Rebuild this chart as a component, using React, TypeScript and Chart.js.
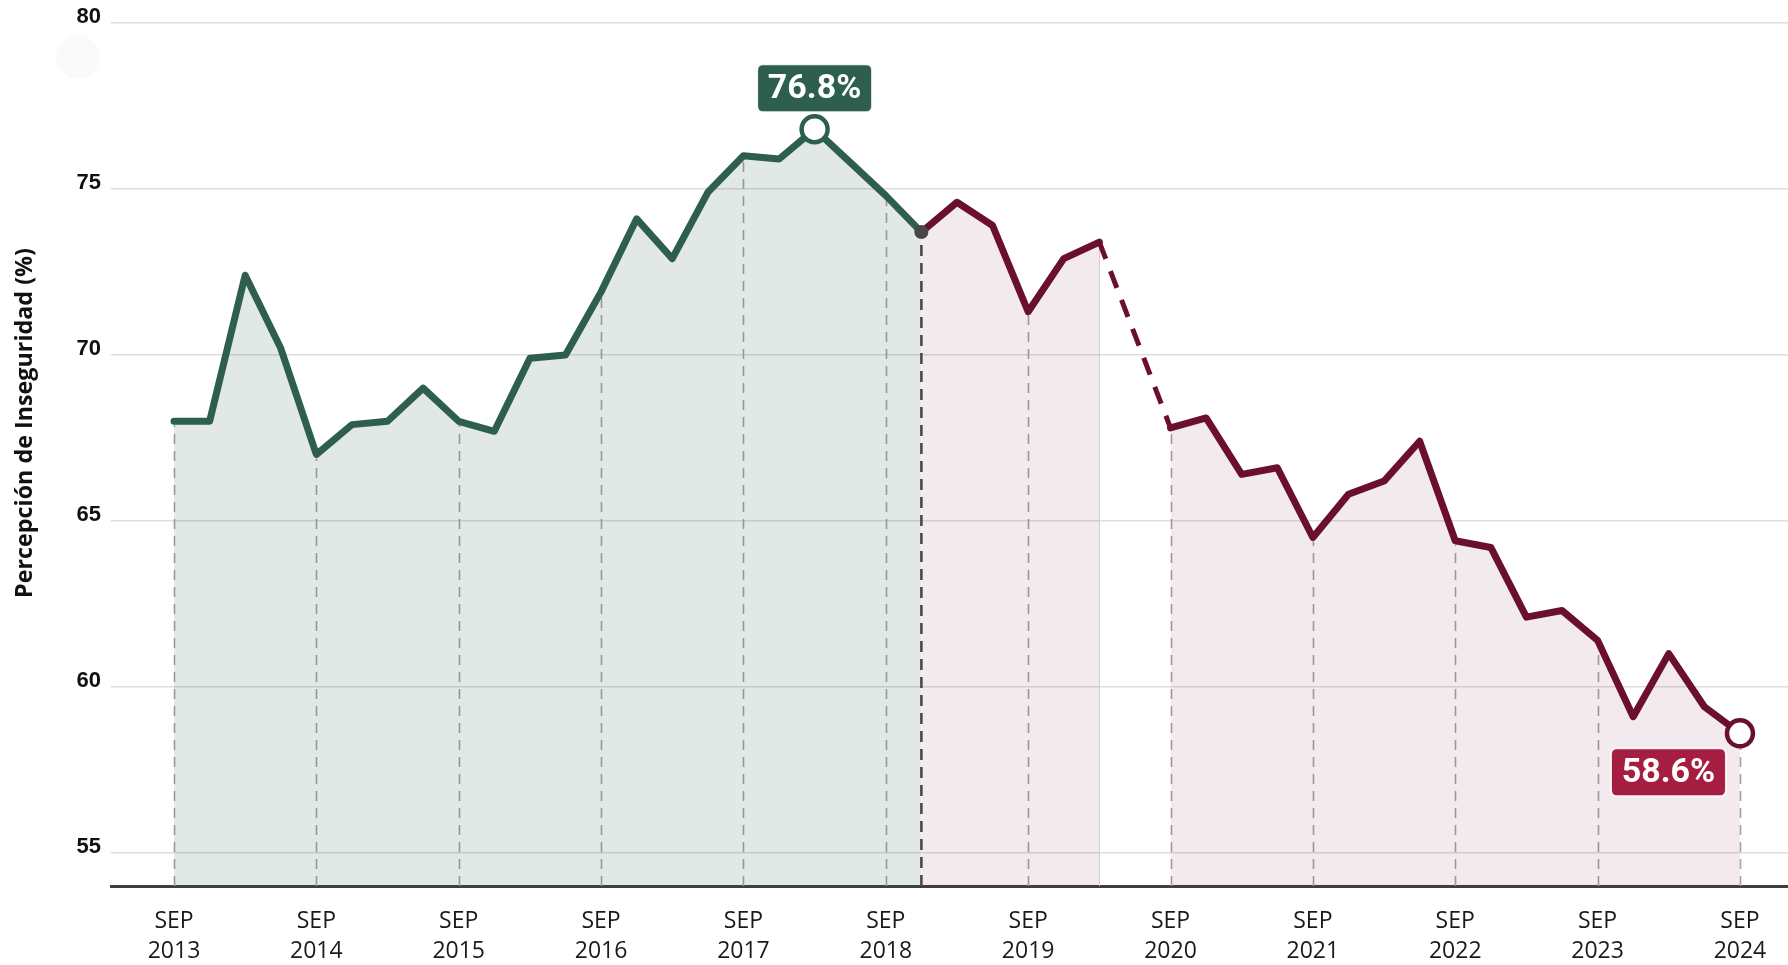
import React, { useEffect, useRef } from 'react';
import { Chart, registerables } from 'chart.js';

Chart.register(...registerables);

// Quarterly survey periods (ENSU)
const quarters: string[] = [
  'SEP 2013', 'DIC 2013', 'MAR 2014', 'JUN 2014',
  'SEP 2014', 'DIC 2014', 'MAR 2015', 'JUN 2015',
  'SEP 2015', 'DIC 2015', 'MAR 2016', 'JUN 2016',
  'SEP 2016', 'DIC 2016', 'MAR 2017', 'JUN 2017',
  'SEP 2017', 'DIC 2017', 'MAR 2018', 'JUN 2018',
  'SEP 2018', 'DIC 2018', 'MAR 2019', 'JUN 2019',
  'SEP 2019', 'DIC 2019', 'MAR 2020', 'JUN 2020',
  'SEP 2020', 'DIC 2020', 'MAR 2021', 'JUN 2021',
  'SEP 2021', 'DIC 2021', 'MAR 2022', 'JUN 2022',
  'SEP 2022', 'DIC 2022', 'MAR 2023', 'JUN 2023',
  'SEP 2023', 'DIC 2023', 'MAR 2024', 'JUN 2024',
  'SEP 2024',
];

// Percepción de inseguridad (%); JUN 2020 not surveyed
const percepcion: (number | null)[] = [
  68.0, 68.0, 72.4, 70.2,
  67.0, 67.9, 68.0, 69.0,
  68.0, 67.7, 69.9, 70.0,
  71.9, 74.1, 72.9, 74.9,
  76.0, 75.9, 76.8, 75.8,
  74.8, 73.7, 74.6, 73.9,
  71.3, 72.9, 73.4, null,
  67.8, 68.1, 66.4, 66.6,
  64.5, 65.8, 66.2, 67.4,
  64.4, 64.2, 62.1, 62.3,
  61.4, 59.1, 61.0, 59.4,
  58.6,
];

// Segments (indices into the arrays above)
const greenRange = [0, 21];     // SEP 2013 – DIC 2018
const maroonRangeA = [21, 26];  // DIC 2018 – MAR 2020
const gapRange = [26, 28];      // MAR 2020 – SEP 2020 (dashed)
const maroonRangeB = [28, 44];  // SEP 2020 – SEP 2024

const sepTickIdx: number[] = [0, 4, 8, 12, 16, 20, 24, 28, 32, 36, 40, 44];
const sepTickYears: string[] = ['2013', '2014', '2015', '2016', '2017', '2018', '2019', '2020', '2021', '2022', '2023', '2024'];
const yTicks: number[] = [55, 60, 65, 70, 75, 80];

const maxIdx = 18;  // MAR 2018 peak
const lastIdx = 44; // SEP 2024
const transitionIdx = 21; // DIC 2018

const GREEN = '#2e5e4e';
const MAROON = '#6a0f2f';
const RED_BOX = '#a51e41';

function pts(from: number, to: number) {
  const out: { x: number; y: number }[] = [];
  for (let i = from; i <= to; i++) {
    const v = percepcion[i];
    if (v !== null) out.push({ x: i, y: v });
  }
  return out;
}

function roundRect(ctx: CanvasRenderingContext2D, x: number, y: number, w: number, h: number, r: number) {
  ctx.beginPath();
  ctx.moveTo(x + r, y);
  ctx.lineTo(x + w - r, y);
  ctx.quadraticCurveTo(x + w, y, x + w, y + r);
  ctx.lineTo(x + w, y + h - r);
  ctx.quadraticCurveTo(x + w, y + h, x + w - r, y + h);
  ctx.lineTo(x + r, y + h);
  ctx.quadraticCurveTo(x, y + h, x, y + h - r);
  ctx.lineTo(x, y + r);
  ctx.quadraticCurveTo(x, y, x + r, y);
  ctx.closePath();
}

const guidesPlugin = {
  id: 'guides',
  beforeDraw(chart: any) {
    // very faint decorative watermark
    const { ctx } = chart;
    ctx.save();
    ctx.fillStyle = 'rgba(0,0,0,0.018)';
    ctx.beginPath();
    ctx.arc(78, 57, 22, 0, Math.PI * 2);
    ctx.fill();
    ctx.restore();
  },
  beforeDatasetsDraw(chart: any) {
    const { ctx, scales, chartArea } = chart;
    const xs = scales.x;
    const ys = scales.y;
    ctx.save();
    sepTickIdx.forEach((i) => {
      const v = percepcion[i];
      if (v === null) return;
      const px = Math.round(xs.getPixelForValue(i)) + 0.5;
      const py = ys.getPixelForValue(v);
      ctx.beginPath();
      ctx.setLineDash([10, 7]);
      ctx.lineWidth = 1.6;
      ctx.strokeStyle = '#a3a3a3';
      ctx.moveTo(px, chartArea.bottom);
      ctx.lineTo(px, py + 4);
      ctx.stroke();
    });
    {
      const v = percepcion[transitionIdx] as number;
      const px = xs.getPixelForValue(transitionIdx);
      const py = ys.getPixelForValue(v);
      ctx.beginPath();
      ctx.setLineDash([11, 7]);
      ctx.lineWidth = 2.6;
      ctx.strokeStyle = '#4d4d4d';
      ctx.moveTo(px, chartArea.bottom);
      ctx.lineTo(px, py + 4);
      ctx.stroke();
    }
    {
      const v = percepcion[gapRange[0]] as number;
      const px = Math.round(xs.getPixelForValue(gapRange[0])) + 0.5;
      const py = ys.getPixelForValue(v);
      ctx.beginPath();
      ctx.setLineDash([]);
      ctx.lineWidth = 1;
      ctx.strokeStyle = '#d2d2d2';
      ctx.moveTo(px, chartArea.bottom);
      ctx.lineTo(px, py + 3);
      ctx.stroke();
    }
    ctx.restore();
  },
  afterDatasetsDraw(chart: any) {
    const { ctx, scales } = chart;
    const xs = scales.x;
    const ys = scales.y;
    const drawBox = (idx: number, color: string, place: 'above' | 'belowLeft') => {
      const v = percepcion[idx] as number;
      const px = xs.getPixelForValue(idx);
      const py = ys.getPixelForValue(v);
      const w = 115;
      const h = 48;
      let bx: number;
      let by: number;
      if (place === 'above') {
        bx = px - w / 2;
        by = py - 17 - h;
      } else {
        bx = px - 14 - w;
        by = py + 15;
      }
      ctx.save();
      roundRect(ctx, bx, by, w, h, 6);
      ctx.fillStyle = color;
      ctx.fill();
      ctx.lineWidth = 2;
      ctx.strokeStyle = 'rgba(255,255,255,0.9)';
      ctx.stroke();
      ctx.fillStyle = '#ffffff';
      ctx.font = 'bold 34px Roboto, "Liberation Sans", sans-serif';
      ctx.textAlign = 'center';
      ctx.textBaseline = 'middle';
      ctx.fillText(`${v.toFixed(1)}%`, bx + w / 2, by + h / 2 + 1);
      ctx.restore();
    };
    drawBox(maxIdx, GREEN, 'above');
    drawBox(lastIdx, RED_BOX, 'belowLeft');
  },
  afterDraw(chart: any) {
    const { ctx } = chart;
    const text = 'Percepción de Inseguridad (%)';
    ctx.save();
    let size = 20;
    ctx.font = `bold ${size}px "Open Sans", sans-serif`;
    const w = ctx.measureText(text).width;
    size = size * (350 / w);
    ctx.font = `bold ${size.toFixed(2)}px "Open Sans", sans-serif`;
    ctx.translate(25, 423);
    ctx.rotate(-Math.PI / 2);
    ctx.fillStyle = '#111111';
    ctx.textAlign = 'center';
    ctx.textBaseline = 'middle';
    ctx.fillText(text, 0, 0);
    ctx.restore();
  },
};

export default function App() {
  const canvasRef = useRef<HTMLCanvasElement | null>(null);

  useEffect(() => {
    const canvas = canvasRef.current;
    if (!canvas) return;

    const lineCommon = {
      tension: 0,
      borderJoinStyle: 'round',
      borderCapStyle: 'round',
      borderWidth: 7,
    };

    const chart = new Chart(canvas, {
      type: 'line',
      data: {
        datasets: [
          {
            ...lineCommon,
            label: 'maroonB',
            data: pts(maroonRangeB[0], maroonRangeB[1]),
            borderColor: MAROON,
            backgroundColor: 'rgba(106,15,47,0.085)',
            fill: 'start',
            pointRadius: (c: any) => (c.raw && c.raw.x === lastIdx ? 13 : 0),
            pointBackgroundColor: '#ffffff',
            pointBorderColor: MAROON,
            pointBorderWidth: 4.5,
            clip: false,
            order: 1,
          } as any,
          {
            ...lineCommon,
            label: 'maroonA',
            data: pts(maroonRangeA[0], maroonRangeA[1]),
            borderColor: MAROON,
            backgroundColor: 'rgba(106,15,47,0.085)',
            fill: 'start',
            pointRadius: (c: any) => (c.raw && c.raw.x === transitionIdx ? 7 : 0),
            pointBackgroundColor: '#474747',
            pointBorderWidth: 0,
            clip: false,
            order: 2,
          } as any,
          {
            label: 'gap',
            data: pts(gapRange[0], gapRange[1]),
            borderColor: MAROON,
            borderWidth: 5,
            borderDash: [18, 13],
            fill: false,
            tension: 0,
            pointRadius: 0,
            spanGaps: true,
            clip: false,
            order: 3,
          } as any,
          {
            ...lineCommon,
            label: 'green',
            data: pts(greenRange[0], greenRange[1]),
            borderColor: GREEN,
            backgroundColor: 'rgba(46,94,78,0.14)',
            fill: 'start',
            pointRadius: (c: any) => (c.raw && c.raw.x === maxIdx ? 13 : 0),
            pointBackgroundColor: '#ffffff',
            pointBorderColor: GREEN,
            pointBorderWidth: 4.5,
            clip: false,
            order: 4,
          } as any,
        ],
      },
      options: {
        responsive: false,
        animation: false,
        layout: { autoPadding: false, padding: { top: 23, left: 0, right: 0, bottom: 0 } },
        plugins: {
          legend: { display: false },
          tooltip: { enabled: false },
        },
        scales: {
          x: {
            type: 'linear',
            min: -1.77,
            max: 45.35,
            grid: { display: false, drawTicks: false },
            border: { display: true, color: '#3f3f3f', width: 3 },
            afterBuildTicks: (s: any) => {
              s.ticks = sepTickIdx.map((v) => ({ value: v }));
            },
            afterFit: (s: any) => {
              s.height = 79;
              s.paddingLeft = 0;
              s.paddingRight = 0;
            },
            ticks: {
              autoSkip: false,
              maxRotation: 0,
              minRotation: 0,
              padding: 21,
              color: '#1a1a1a',
              font: { family: '"Open Sans", sans-serif', size: 23, lineHeight: 1.3 },
              callback: (value: any) => {
                const k = sepTickIdx.indexOf(Number(value));
                return k >= 0 ? [quarters[value].split(' ')[0], sepTickYears[k]] : '';
              },
            },
          },
          y: {
            type: 'linear',
            min: 54,
            max: 80,
            afterBuildTicks: (s: any) => {
              s.ticks = yTicks.map((v) => ({ value: v }));
            },
            afterFit: (s: any) => {
              s.width = 111;
              s.paddingTop = 0;
              s.paddingBottom = 0;
            },
            grid: { color: '#dedede', lineWidth: 1.5, drawTicks: false },
            border: { display: false },
            ticks: {
              padding: 10,
              labelOffset: -6,
              color: '#111111',
              font: { family: '"Liberation Sans", Arial, sans-serif', size: 22, weight: 'bold' },
            },
          },
        },
      },
      plugins: [guidesPlugin],
    } as any);

    return () => {
      chart.destroy();
    };
  }, []);

  return (
    <div style={{ position: 'absolute', left: 0, top: 0, width: 1788, height: 965, background: '#ffffff' }}>
      <canvas ref={canvasRef} width={1788} height={965} style={{ display: 'block' }} />
    </div>
  );
}
